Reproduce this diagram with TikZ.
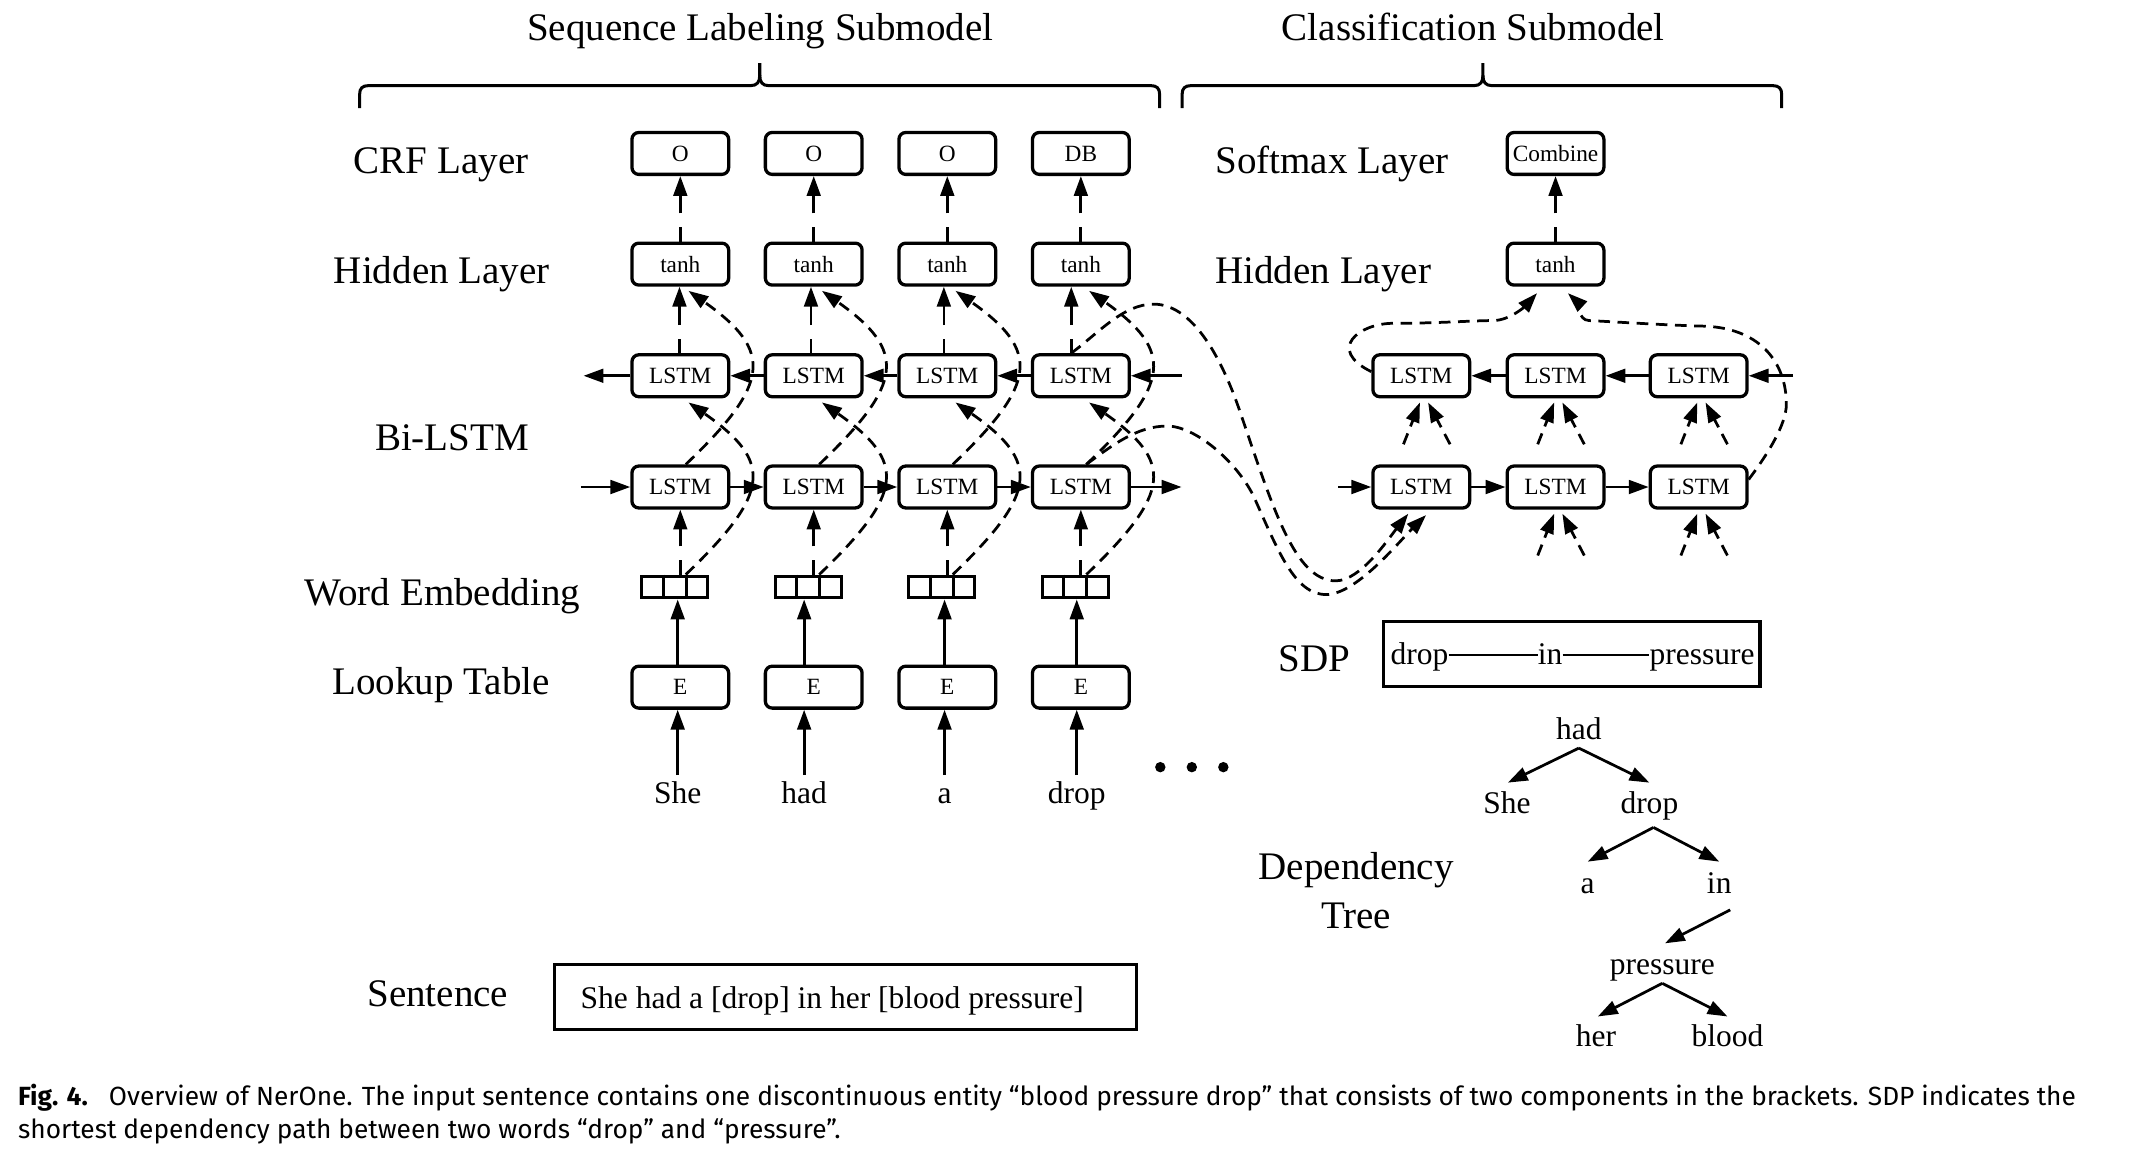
\documentclass[tikz,border=0pt]{standalone}
\usepackage{fontspec}
\setmainfont{Liberation Serif}
\newfontfamily\capfont{Fira Sans}
\usetikzlibrary{arrows.meta,calc}
\begin{document}
\begin{tikzpicture}[x=1pt,y=-1pt,
  box/.style={draw, line width=2.4pt, rounded corners=5pt, minimum width=70.6pt, minimum height=30.6pt, inner sep=0pt, font=\fontsize{17}{17}\selectfont},
  embbox/.style={draw, line width=2.2pt, minimum width=48pt, minimum height=16pt, inner sep=0pt},
  plainbox/.style={draw, line width=2.4pt, inner sep=0pt},
  conn/.style={line width=2pt, -{Triangle[length=14.5pt,width=10pt]}},
  gapconn/.style={conn, dash pattern=on 10.5pt off 10pt on 300pt off 10pt},
  dconn/.style={conn, dash pattern=on 8.5pt off 5.5pt},
  brace/.style={line width=2.2pt},
  lab/.style={font=\fontsize{28.5}{28.5}\selectfont, anchor=base, inner sep=0pt},
  word/.style={font=\fontsize{23}{23}\selectfont, anchor=base, inner sep=0pt},
  capt/.style={font=\capfont\fontsize{19.2}{19.2}\selectfont, anchor=base west, inner sep=0pt}
]
\fill[white] (0,0) rectangle (1568,841);
\useasboundingbox (0,0) rectangle (1568,841);

% titles and braces
\node[lab] (title1) at (555,29.2) {Sequence Labeling Submodel};
\node[lab] (title2) at (1075.5,29.2) {Classification Submodel};
\draw[brace] (262.5,79) -- (262.5,69) .. controls (262.5,64.5) and (264.5,62.5) .. (269,62.5) -- (548,62.5) .. controls (552.5,62.5) and (554.6,60) .. (554.6,55) -- (554.6,46);
\draw[brace] (554.6,55) .. controls (554.6,60) and (556.7,62.5) .. (561,62.5) -- (840,62.5) .. controls (844.5,62.5) and (846.5,64.5) .. (846.5,69) -- (846.5,79);
\draw[brace] (862.9,79) -- (862.9,69) .. controls (862.9,64.5) and (864.9,62.5) .. (869.4,62.5) -- (1076,62.5) .. controls (1080.5,62.5) and (1082.5,60) .. (1082.5,55) -- (1082.5,46);
\draw[brace] (1082.5,55) .. controls (1082.5,60) and (1084.5,62.5) .. (1089,62.5) -- (1294,62.5) .. controls (1298.5,62.5) and (1300.6,64.5) .. (1300.6,69) -- (1300.6,79);

% row labels
\node[lab] (lcrf) at (322,126.5) {CRF Layer};
\node[lab] (lhid) at (322.5,206.8) {Hidden Layer};
\node[lab] (lbi) at (330,329) {Bi-LSTM};
\node[lab] (lwe) at (323,442.3) {Word Embedding};
\node[lab] (llt) at (322,507.3) {Lookup Table};
\node[lab] (lsen) at (319.6,734.8) {Sentence};
\node[lab, anchor=base west] (lsoft) at (887,126.5) {Softmax Layer};
\node[lab, anchor=base west] (lhid2) at (887,206.8) {Hidden Layer};
\node[lab] (lsdp) at (959.7,490.3) {SDP};
\node[lab] (ldep1) at (990,642.3) {Dependency};
\node[lab] (ldep2) at (990,677.6) {Tree};

% sequence labeling columns
\foreach \i/\x/\dx/\wx/\w/\lab in {1/496.6/-0.6/494.7/She/O, 2/594/-2/587/had/O, 3/691.5/-2.5/689.5/a/O, 4/789/-7/786/drop/DB} {
  \node[box] (crf\i) at (\x,112) {\lab};
  \node[box] (th\i) at (\x,192.8) {tanh};
  \node[box] (lt\i) at (\x,274.3) {LSTM};
  \node[box] (lb\i) at (\x,355.5) {LSTM};
  \node[embbox] (emb\i) at ({\x-4},428.5) {};
  \draw[line width=2.2pt] ($(emb\i.north west)!1/3!(emb\i.north east)$) -- ($(emb\i.south west)!1/3!(emb\i.south east)$);
  \draw[line width=2.2pt] ($(emb\i.north west)!2/3!(emb\i.north east)$) -- ($(emb\i.south west)!2/3!(emb\i.south east)$);
  \node[box] (e\i) at (\x,501.6) {E};
  \node[word] (w\i) at (\wx,586.4) {\w};
  \draw[conn] ([yshift=20.5pt]w\i.base) -- (w\i |- e\i.south);
  \draw[conn] (w\i |- e\i.north) -- (w\i |- emb\i.south);
  \draw[gapconn] (lb\i |- emb\i.north) -- (lb\i.south);
  \draw[gapconn] ([xshift=\dx pt]lt\i.north) -- ([xshift=\dx pt]th\i.south);
  \draw[gapconn] (th\i.north) -- (crf\i.south);
  \draw[dconn] ([xshift=8pt]emb\i.north) .. controls ({\x+66},360) and ({\x+68},337) .. ([xshift=6pt,yshift=-3pt]lt\i.south);
  \draw[dconn] ([xshift=4pt]lb\i.north) .. controls ({\x+66},280) and ({\x+68},256) .. ([xshift=6pt,yshift=-3pt]th\i.south);
}
\coordinate (ltin) at (862.5,274.3);
\coordinate (ltout) at (426,274.3);
\coordinate (lbin) at (424,355.5);
\coordinate (lbout) at (862.5,355.5);
\draw[conn] (ltin) -- (lt4.east);
\draw[conn] (lt4.west) -- (lt3.east);
\draw[conn] (lt3.west) -- (lt2.east);
\draw[conn] (lt2.west) -- (lt1.east);
\draw[conn] (lt1.west) -- (ltout);
\draw[conn] (lbin) -- (lb1.west);
\draw[conn] (lb1.east) -- (lb2.west);
\draw[conn] (lb2.east) -- (lb3.west);
\draw[conn] (lb3.east) -- (lb4.west);
\draw[conn] (lb4.east) -- (lbout);

% dots
\fill (847,560) circle[radius=3.8pt];
\fill (870,560) circle[radius=3.8pt];
\fill (893,560) circle[radius=3.8pt];

% sentence
\node[plainbox, minimum width=425pt, minimum height=47.5pt] (sentbox) at (617.05,727.65) {};
\node[word] (sent) at (607.5,735.9) {She had a [drop] in her [blood pressure]};

% classification submodel
\node[box] (comb) at (1135.5,112) {Combine};
\node[box] (rth) at (1135.5,192.8) {tanh};
\node[box] (rt1) at (1037.5,274.3) {LSTM};
\node[box] (rt2) at (1135.5,274.3) {LSTM};
\node[box] (rt3) at (1240,274.3) {LSTM};
\node[box] (rb1) at (1037.5,355.5) {LSTM};
\node[box] (rb2) at (1135.5,355.5) {LSTM};
\node[box] (rb3) at (1240,355.5) {LSTM};
\draw[gapconn] (rth.north) -- (comb.south);
\coordinate (rtin) at (1309,274.3);
\coordinate (rbin) at (977,355.5);
\draw[conn] (rtin) -- (rt3.east);
\draw[conn] (rt3.west) -- (rt2.east);
\draw[conn] (rt2.west) -- (rt1.east);
\draw[conn] (rbin) -- (rb1.west);
\draw[conn] (rb1.east) -- (rb2.west);
\draw[conn] (rb2.east) -- (rb3.west);
\foreach \n in {rt1,rt2,rt3,rb2,rb3} {
  \draw[dconn] ([xshift=-13pt,yshift=-33.5pt]\n.south) -- ([xshift=-1pt,yshift=-3pt]\n.south);
  \draw[dconn] ([xshift=21pt,yshift=-33.5pt]\n.south) -- ([xshift=5pt,yshift=-3pt]\n.south);
}
% curves into tanh
\coordinate (c3a) at (1017,236);
\coordinate (c3b) at (1090,234);
\draw[dconn] ([yshift=3pt]rt1.west) .. controls (968,255) and (992,236) .. (c3a) .. controls (1050,236) and (1075,234) .. (c3b) .. controls (1102,234) and (1113.6,223.2) .. ([xshift=-13.5pt,yshift=-4.7pt]rth.south);
\coordinate (c4a) at (1304,295);
\coordinate (c4b) at (1240,238);
\coordinate (c4c) at (1160,234);
\draw[dconn] ([yshift=5.5pt]rb3.east) .. controls (1290,332) and (1304,310) .. (c4a) .. controls (1304,265) and (1285,238) .. (c4b) .. controls (1210,237) and (1180,235) .. (c4c) .. controls (1152,234) and (1151,220) .. ([xshift=9pt,yshift=-4.7pt]rth.south);
% long curves from the drop column
\coordinate (c1a) at (842,222);
\coordinate (c1b) at (905,300);
\coordinate (c1c) at (975,424);
\draw[dconn] ([xshift=-7pt]lt4.north) .. controls (802,243) and (820,222) .. (c1a) .. controls (872,222) and (893,265) .. (c1b) .. controls (929,370) and (945,424) .. (c1c) .. controls (993,424) and (1013,394) .. ([xshift=-9.5pt,yshift=-3pt]rb1.south);
\coordinate (c2a) at (852,311);
\coordinate (c2b) at (915,362);
\coordinate (c2c) at (968,434);
\draw[dconn] ([xshift=4pt]lb4.north) .. controls (812,325) and (830,311) .. (c2a) .. controls (872,311) and (902,336) .. (c2b) .. controls (933,402) and (945,434) .. (c2c) .. controls (990,434) and (1021,395.6) .. ([xshift=3.5pt,yshift=-4pt]rb1.south);

% SDP
\node[plainbox, minimum width=275pt, minimum height=47.5pt] (sdpbox) at (1147.3,477.45) {};
\node[word] (sdrop) at (1036.2,485.4) {drop};
\node[word] (sin) at (1131.5,485.4) {in};
\node[word] (spres) at (1242.5,485.4) {pressure};
\draw[line width=1.7pt] ([yshift=7.4pt]sdrop.base east) -- ([yshift=7.4pt]sin.base west);
\draw[line width=1.7pt] ([yshift=7.4pt]sin.base east) -- ([yshift=7.4pt]spres.base west);

% dependency tree
\node[word] (had) at (1152.5,540.1) {had};
\node[word] (dshe) at (1100,593.7) {She};
\node[word] (ddrop) at (1204,593.7) {drop};
\node[word] (da) at (1159,652) {a};
\node[word] (din) at (1255,652) {in};
\node[word] (dpres) at (1213.4,711.7) {pressure};
\node[word] (dher) at (1165,764) {her};
\node[word] (dblood) at (1261,764) {blood};
\draw[conn] ([yshift=-6pt]had.base) -- ([xshift=0.7pt,yshift=22.4pt]dshe.base);
\draw[conn] ([yshift=-6pt]had.base) -- ([yshift=22.4pt]ddrop.base);
\draw[conn] ([xshift=3pt,yshift=-10.3pt]ddrop.base) -- ([yshift=23pt]da.base);
\draw[conn] ([xshift=3pt,yshift=-10.3pt]ddrop.base) -- ([yshift=23pt]din.base);
\draw[conn] ([xshift=8pt,yshift=-12.2pt]din.base) -- ([xshift=2pt,yshift=23.1pt]dpres.base);
\draw[conn] ([yshift=-6.1pt]dpres.base) -- ([xshift=1.4pt,yshift=22pt]dher.base);
\draw[conn] ([yshift=-6.1pt]dpres.base) -- ([yshift=22pt]dblood.base);

% caption
\node[capt] (cap1) at (13,807) {\textbf{Fig. 4.}\hspace{0.45em} Overview of NerOne. The input sentence contains one discontinuous entity “blood pressure drop” that consists of two components in the brackets. SDP indicates the};
\node[capt] (cap2) at (13,831) {shortest dependency path between two words “drop” and “pressure”.};
\end{tikzpicture}
\end{document}
